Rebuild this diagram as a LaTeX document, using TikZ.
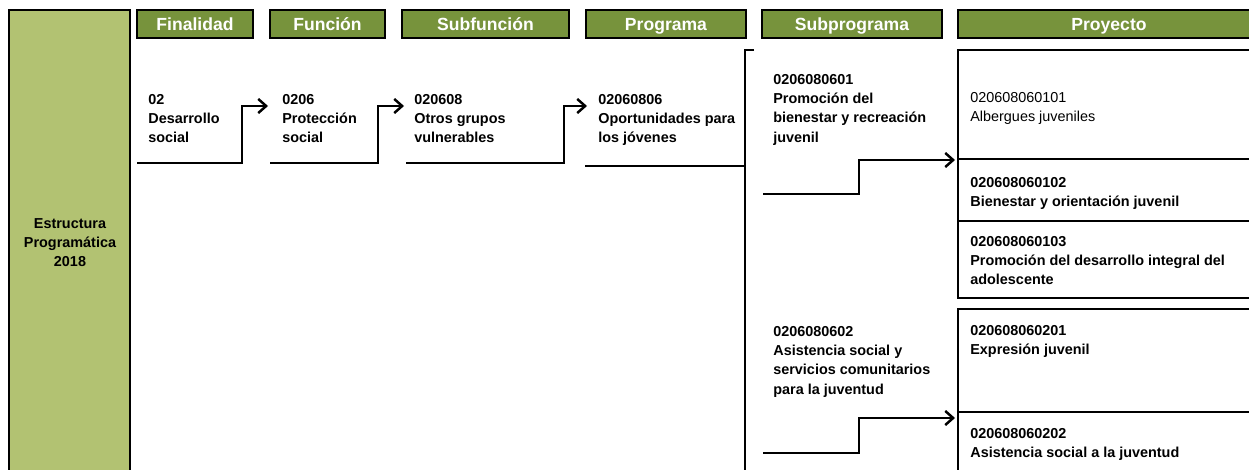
\documentclass[tikz,border=0pt]{standalone}
\usepackage{fontspec}
\setmainfont{Liberation Sans}
\usetikzlibrary{arrows.meta}
\definecolor{olivahead}{HTML}{77933C}
\definecolor{olivaside}{HTML}{B2C272}

\begin{document}
\begin{tikzpicture}[x=0.02cm, y=-0.02cm,
    head/.style={draw=black, line width=0.6pt, fill=olivahead},
    headtxt/.style={text=white, inner sep=0pt, text height=7.2pt, text depth=0pt,
      font=\fontsize{10}{12}\selectfont\bfseries},
    code/.style={anchor=north west, inner sep=0pt, align=left,
      font=\fontsize{8.2}{10.95}\selectfont\bfseries},
    plain/.style={font=\fontsize{8.2}{10.95}\selectfont},
    flow/.style={line width=1.4pt, -{Straight Barb[length=4.5pt,width=8pt]}},
    rule/.style={line width=1.4pt},
    boxline/.style={line width=1.6pt}]
  \useasboundingbox (0,0) rectangle (1249,470);

  % side bar and column headers
  \filldraw[draw=black, line width=0.6pt, fill=olivaside] (9,10) rectangle (130,473);
  \node[anchor=north, inner sep=0pt, align=center, font=\fontsize{8.2}{10.95}\selectfont\bfseries]
    (estr) at (70,218) {Estructura\\Programática\\2018};
  \filldraw[head] (137,10) rectangle (253,38) node[midway, headtxt] (hFin) {Finalidad};
  \filldraw[head] (270,10) rectangle (385,38) node[midway, headtxt] (hFun) {Función};
  \filldraw[head] (402,10) rectangle (569,38) node[midway, headtxt] (hSub) {Subfunción};
  \filldraw[head] (586,10) rectangle (746,38) node[midway, headtxt] (hPrg) {Programa};
  \filldraw[head] (762,10) rectangle (942,38) node[midway, headtxt] (hSpr) {Subprograma};
  \filldraw[head] (958,10) rectangle (1260,38) node[midway, headtxt] (hPry) {Proyecto};

  % codes
  \node[code] (fin) at (148,94) {02\\Desarrollo\\social};
  \node[code] (fun) at (282,94) {0206\\Protección\\social};
  \node[code] (sfun) at (414,94) {020608\\Otros grupos\\vulnerables};
  \node[code] (prog) at (598,94) {02060806\\Oportunidades para\\los jóvenes};
  \node[code] (sub1) at (773,74) {0206080601\\Promoción del\\bienestar y recreación\\juvenil};
  \node[code] (sub2) at (773,326) {0206080602\\Asistencia social y\\servicios comunitarios\\para la juventud};
  \node[code, plain] (pry1) at (970,92) {020608060101\\Albergues juveniles};
  \node[code] (pry2) at (970,177) {020608060102\\Bienestar y orientación juvenil};
  \node[code] (pry3) at (970,236) {020608060103\\Promoción del desarrollo integral del\\adolescente};
  \node[code] (pry4) at (970,325) {020608060201\\Expresión juvenil};
  \node[code] (pry5) at (970,428) {020608060202\\Asistencia social a la juventud};

  % project boxes
  \draw[boxline] (958,50) rectangle (1262,298);
  \draw[boxline] (958,159) -- (1262,159);
  \draw[boxline] (958,221) -- (1262,221);
  \draw[boxline] (958,309) rectangle (1262,474);
  \draw[boxline] (958,412) -- (1262,412);

  % connectors
  \coordinate (fin-a) at (137,163); \coordinate (fun-in) at (268,106);
  \coordinate (fun-a) at (270,163); \coordinate (sfun-in) at (404,106);
  \coordinate (sfun-a) at (406,163); \coordinate (prog-in) at (587,106);
  \coordinate (prog-a) at (585,166); \coordinate (brk) at (745,166);
  \coordinate (brk-top) at (754,50); \coordinate (brk-bot) at (745,474);
  \coordinate (sub1-a) at (763,194); \coordinate (pry-in1) at (955,160);
  \coordinate (sub2-a) at (763,453); \coordinate (pry-in2) at (955,418);
  \draw[flow] (fin-a) -- +(105,0) |- (fun-in);
  \draw[flow] (fun-a) -- +(108,0) |- (sfun-in);
  \draw[flow] (sfun-a) -- +(158,0) |- (prog-in);
  \draw[rule] (prog-a) -- (brk);
  \draw[rule] (brk-top) -| (brk-bot);
  \draw[flow] (sub1-a) -- +(96,0) |- (pry-in1);
  \draw[flow] (sub2-a) -- +(96,0) |- (pry-in2);
\end{tikzpicture}
\end{document}
